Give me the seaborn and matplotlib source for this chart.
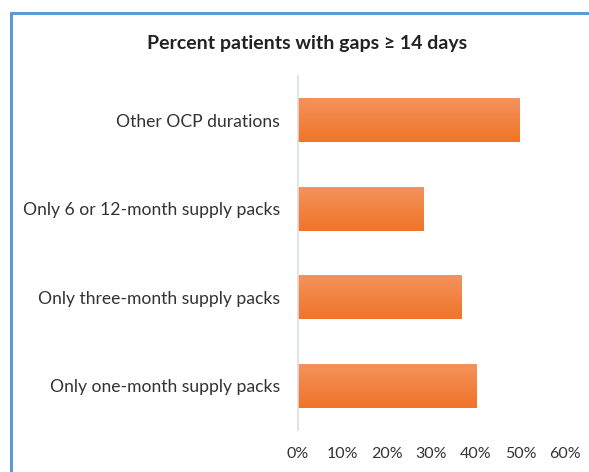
import numpy as np
import pandas as pd
import matplotlib
matplotlib.use('Agg')
import matplotlib.pyplot as plt
from matplotlib.patches import Rectangle
from matplotlib.ticker import PercentFormatter
import seaborn as sns

# Data
categories = ['Other OCP durations',
              'Only 6 or 12-month supply packs',
              'Only three-month supply packs',
              'Only one-month supply packs']
pct_gaps = [0.498, 0.281, 0.367, 0.401]
x_ticks = [0.0, 0.1, 0.2, 0.3, 0.4, 0.5, 0.6]

sns.set_theme(style='white')
plt.rcParams['font.family'] = ['Lato', 'DejaVu Sans']

df = pd.DataFrame({'category': categories, 'pct': pct_gaps})

fig = plt.figure(figsize=(5.89, 4.72), dpi=100)
ax = fig.add_axes([298 / 589, 1 - 430 / 472, (565 - 298) / 589, (430 - 76) / 472])

sns.barplot(data=df, x='pct', y='category', orient='h', color='#F27B33',
            width=0.5, saturation=1, ax=ax)

# vertical gradient on each bar (lighter at top)
grad = np.linspace(0, 1, 64).reshape(-1, 1)
cmap = matplotlib.colors.LinearSegmentedColormap.from_list('bar', ['#F4935E', '#F07428'])
for p in ax.patches:
    x0, y0 = p.get_x(), p.get_y()
    w, h = p.get_width(), p.get_height()
    im = ax.imshow(grad, cmap=cmap, aspect='auto', extent=(x0, x0 + w, y0 + h, y0),
                   zorder=p.get_zorder() + 0.1)
    im.set_clip_path(p)

ax.set_xlim(0, 0.6)
ax.set_ylim(3.5, -0.5)
ax.set_xticks(x_ticks)
ax.xaxis.set_major_formatter(PercentFormatter(1.0, decimals=0))
ax.set_xlabel('')
ax.set_ylabel('')
ax.tick_params(axis='both', length=0, colors='#333333')
ax.tick_params(axis='x', pad=12, labelsize=11.5)
ax.tick_params(axis='y', pad=13, labelsize=12.6)
for s in ['top', 'right', 'bottom']:
    ax.spines[s].set_visible(False)
ax.spines['left'].set_color('#D9DEE6')
ax.spines['left'].set_linewidth(1.2)

fig.text(307.5 / 589, 1 - 43 / 472, 'Percent patients with gaps \u2265 14 days',
         ha='center', va='center', fontsize=14, fontweight='bold', color='#222222')

# blue frame
fig.patches.append(Rectangle((11 / 589, -0.05), 1.2, 1 - 13 / 472 + 0.05,
                             transform=fig.transFigure, fill=False,
                             edgecolor='#5B9BD5', linewidth=2.2, zorder=0))

fig.savefig('out.png', dpi=100)
